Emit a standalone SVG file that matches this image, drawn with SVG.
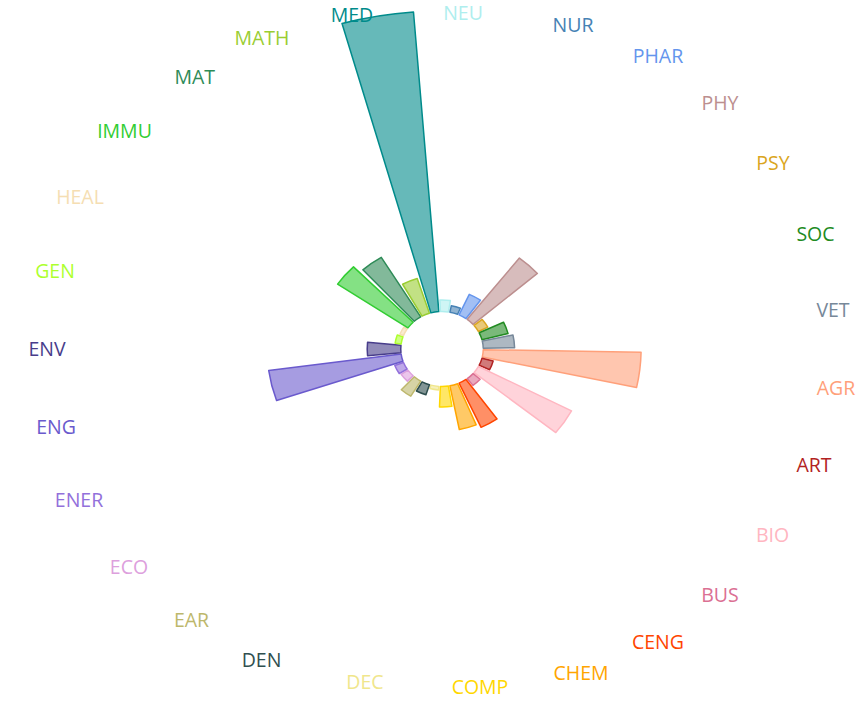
<svg xmlns="http://www.w3.org/2000/svg" width="865" height="707" viewBox="0 0 865 707">
<style>
.bar{fill:currentColor;fill-opacity:0.6;stroke:currentColor;stroke-width:1.5;stroke-linejoin:round}
.lbl{fill:currentColor;font-family:"Open Sans","DejaVu Sans",sans-serif;font-size:19.5px;text-anchor:middle}
</style>
<rect width="865" height="707" fill="#ffffff"/>
<g id="AGR" color="#FFA07A"><path class="bar" d="M483.24,349.70 L641.07,352.37 A199.1,181 0 0 1 636.55,387.46 L482.31,356.97 A41.25,37.5 0 0 0 483.24,349.70 Z"/><text class="lbl" x="836" y="395">AGR</text></g>
<g id="ART" color="#B22222"><path class="bar" d="M481.95,358.33 L493.14,360.94 A52.8,48 0 0 1 489.62,369.74 L479.20,365.20 A41.25,37.5 0 0 0 481.95,358.33 Z"/><text class="lbl" x="814" y="472">ART</text></g>
<g id="BIO" color="#FFB6C1"><path class="bar" d="M478.51,366.45 L571.50,410.89 A146.3,133 0 0 1 555.80,432.58 L474.09,372.57 A41.25,37.5 0 0 0 478.51,366.45 Z"/><text class="lbl" x="772.5" y="542">BIO</text></g>
<g id="BUS" color="#DB7093"><path class="bar" d="M473.10,373.64 L480.15,379.22 A50.6,46 0 0 1 472.96,385.38 L467.24,378.66 A41.25,37.5 0 0 0 473.10,373.64 Z"/><text class="lbl" x="720" y="602">BUS</text></g>
<g id="CENG" color="#FF4500"><path class="bar" d="M466.01,379.49 L497.07,418.92 A94.6,86 0 0 1 481.09,427.32 L459.05,383.15 A41.25,37.5 0 0 0 466.01,379.49 Z"/><text class="lbl" x="658" y="649">CENG</text></g>
<g id="CHEM" color="#FFA500"><path class="bar" d="M457.63,383.70 L476.18,424.89 A90.2,82 0 0 1 459.31,429.47 L449.92,385.80 A41.25,37.5 0 0 0 457.63,383.70 Z"/><text class="lbl" x="581" y="680">CHEM</text></g>
<g id="COMP" color="#FFD700"><path class="bar" d="M448.41,386.05 L451.91,406.30 A63.8,58 0 0 1 439.48,406.95 L440.37,386.47 A41.25,37.5 0 0 0 448.41,386.05 Z"/><text class="lbl" x="480" y="693.5">COMP</text></g>
<g id="DEC" color="#F0E68C"><path class="bar" d="M438.84,386.39 L438.54,389.88 A45.1,41 0 0 1 429.87,388.49 L430.91,385.12 A41.25,37.5 0 0 0 438.84,386.39 Z"/><text class="lbl" x="365" y="689">DEC</text></g>
<g id="DEN" color="#2F4F4F"><path class="bar" d="M429.44,384.72 L425.92,394.72 A52.8,48 0 0 1 416.46,391.01 L422.04,381.82 A41.25,37.5 0 0 0 429.44,384.72 Z"/><text class="lbl" x="261.5" y="666.5">DEN</text></g>
<g id="EAR" color="#BDB76B"><path class="bar" d="M420.72,381.12 L410.79,396.12 A60.5,55 0 0 1 401.31,389.71 L414.26,376.75 A41.25,37.5 0 0 0 420.72,381.12 Z"/><text class="lbl" x="191.5" y="627">EAR</text></g>
<g id="ECO" color="#DDA0DD"><path class="bar" d="M413.14,375.79 L407.37,381.15 A49.5,45 0 0 1 401.14,374.40 L407.95,370.17 A41.25,37.5 0 0 0 413.14,375.79 Z"/><text class="lbl" x="129" y="573.5">ECO</text></g>
<g id="ENER" color="#9370DB"><path class="bar" d="M407.12,369.01 L399.21,373.55 A50.6,46 0 0 1 394.78,365.54 L403.51,362.48 A41.25,37.5 0 0 0 407.12,369.01 Z"/><text class="lbl" x="79" y="507">ENER</text></g>
<g id="ENG" color="#6A5ACD"><path class="bar" d="M402.98,361.17 L276.56,400.59 A174.9,159 0 0 1 268.69,370.39 L401.13,354.05 A41.25,37.5 0 0 0 402.98,361.17 Z"/><text class="lbl" x="56" y="434">ENG</text></g>
<g id="ENV" color="#483D8B"><path class="bar" d="M400.95,352.66 L367.56,355.64 A74.8,68 0 0 1 367.56,342.36 L400.95,345.34 A41.25,37.5 0 0 0 400.95,352.66 Z"/><text class="lbl" x="47" y="356">ENV</text></g>
<g id="GEN" color="#ADFF2F"><path class="bar" d="M401.13,343.95 L395.13,343.21 A47.3,43 0 0 1 397.26,335.05 L402.98,336.83 A41.25,37.5 0 0 0 401.13,343.95 Z"/><text class="lbl" x="55" y="278">GEN</text></g>
<g id="HEAL" color="#F5DEB3"><path class="bar" d="M403.51,335.52 L399.91,334.26 A45.1,41 0 0 1 403.86,327.12 L407.12,328.99 A41.25,37.5 0 0 0 403.51,335.52 Z"/><text class="lbl" x="80" y="204">HEAL</text></g>
<g id="IMMU" color="#32CD32"><path class="bar" d="M407.95,327.83 L337.58,284.08 A126.5,115 0 0 1 353.49,266.84 L413.14,322.21 A41.25,37.5 0 0 0 407.95,327.83 Z"/><text class="lbl" x="124.5" y="137.5">IMMU</text></g>
<g id="MAT" color="#2E8B57"><path class="bar" d="M414.26,321.25 L362.85,269.81 A117.7,107 0 0 1 381.28,257.34 L420.72,316.88 A41.25,37.5 0 0 0 414.26,321.25 Z"/><text class="lbl" x="194.7" y="84">MAT</text></g>
<g id="MATH" color="#9ACD32"><path class="bar" d="M422.04,316.18 L402.62,284.24 A81.4,74 0 0 1 417.21,278.52 L429.44,313.28 A41.25,37.5 0 0 0 422.04,316.18 Z"/><text class="lbl" x="262" y="45">MATH</text></g>
<g id="MED" color="#008B8B"><path class="bar" d="M430.91,312.88 L342.02,23.45 A371.8,338 0 0 1 413.48,12.00 L438.84,311.61 A41.25,37.5 0 0 0 430.91,312.88 Z"/><text class="lbl" x="352" y="22">MED</text></g>
<g id="NEU" color="#AFEEEE"><path class="bar" d="M440.37,311.53 L439.87,300.04 A53.9,49 0 0 1 450.37,300.59 L448.41,311.95 A41.25,37.5 0 0 0 440.37,311.53 Z"/><text class="lbl" x="463" y="19.5">NEU</text></g>
<g id="NUR" color="#4682B4"><path class="bar" d="M449.92,312.20 L451.29,305.82 A48.4,44 0 0 1 460.34,308.28 L457.63,314.30 A41.25,37.5 0 0 0 449.92,312.20 Z"/><text class="lbl" x="573" y="32">NUR</text></g>
<g id="PHAR" color="#6495ED"><path class="bar" d="M459.05,314.85 L469.27,294.36 A66,60 0 0 1 480.42,300.22 L466.01,318.51 A41.25,37.5 0 0 0 459.05,314.85 Z"/><text class="lbl" x="658" y="63">PHAR</text></g>
<g id="PHY" color="#BC8F8F"><path class="bar" d="M467.24,319.34 L519.40,258.04 A126.5,115 0 0 1 537.37,273.45 L473.10,324.36 A41.25,37.5 0 0 0 467.24,319.34 Z"/><text class="lbl" x="720" y="110">PHY</text></g>
<g id="PSY" color="#DAA520"><path class="bar" d="M474.09,325.43 L482.22,319.46 A51.7,47 0 0 1 487.76,327.13 L478.51,331.55 A41.25,37.5 0 0 0 474.09,325.43 Z"/><text class="lbl" x="773" y="170">PSY</text></g>
<g id="SOC" color="#228B22"><path class="bar" d="M479.20,332.80 L503.50,322.21 A68.2,62 0 0 1 508.06,333.58 L481.95,339.67 A41.25,37.5 0 0 0 479.20,332.80 Z"/><text class="lbl" x="815.5" y="240.5">SOC</text></g>
<g id="VET" color="#778899"><path class="bar" d="M482.31,341.03 L512.94,334.98 A72.6,66 0 0 1 514.59,347.65 L483.24,348.30 A41.25,37.5 0 0 0 482.31,341.03 Z"/><text class="lbl" x="833" y="317">VET</text></g>
</svg>
